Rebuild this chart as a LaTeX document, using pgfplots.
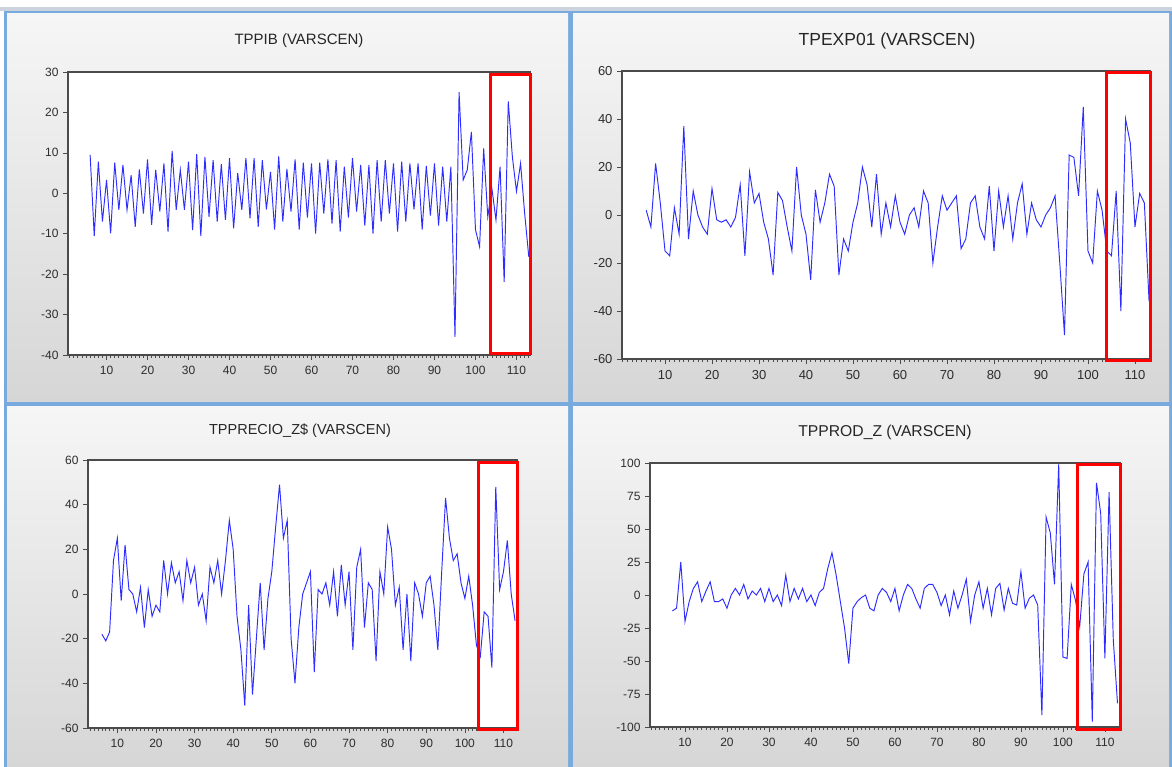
\documentclass[border=0pt]{standalone}
\usepackage{pgfplots}
\pgfplotsset{compat=1.18}
\usepackage{fontspec}
\setmainfont{Liberation Sans}
\definecolor{panelborder}{RGB}{120,170,222}
\definecolor{paneltop}{RGB}{246,246,246}
\definecolor{panelbot}{RGB}{214,214,214}
\definecolor{framegray}{RGB}{75,75,75}
\definecolor{ticktext}{RGB}{45,45,45}
\definecolor{serieblue}{RGB}{45,45,255}
\definecolor{topstrip}{RGB}{205,211,222}
\pgfplotsset{evstyle/.style={
  scale only axis,
  axis background/.style={fill=white},
  axis line style={draw=framegray, line width=1.1pt},
  tick align=outside,
  xtick pos=left, ytick pos=left,
  major tick length=5pt, minor tick length=2.8pt,
  every tick/.style={draw=framegray, line width=0.7pt},
  xtick={10,20,...,110},
  minor xtick={1,2,...,113},
  /pgf/number format/assume math mode=true,
  tick label style={text=ticktext},
  xticklabel style={yshift=-3pt},
  yticklabel style={xshift=-1pt},
},
ser/.style={serieblue, line width=0.95pt, mark=none}}
\begin{document}
\begin{tikzpicture}
\path[fill=white, use as bounding box] (0pt,0pt) rectangle (1172pt,-767pt);
\fill[topstrip] (0pt,-7pt) rectangle (1172pt,-11pt);
\fill[panelborder] (4pt,-11pt) rectangle (1172pt,-767pt);
\shade[top color=paneltop, bottom color=panelbot] (7pt,-14pt) rectangle (568pt,-401.5pt);
\shade[top color=paneltop, bottom color=panelbot] (573pt,-14pt) rectangle (1169pt,-401.5pt);
\shade[top color=paneltop, bottom color=panelbot] (7pt,-406pt) rectangle (568pt,-767pt);
\shade[top color=paneltop, bottom color=panelbot] (573pt,-406pt) rectangle (1169pt,-767pt);

\node[text=black!85, font=\fontsize{15}{15}\selectfont] at (299pt,-41pt) {TPPIB (VARSCEN)};
\node[text=black!85, font=\fontsize{17.5}{17.5}\selectfont] at (887pt,-41pt) {TPEXP01 (VARSCEN)};
\node[text=black!85, font=\fontsize{14.5}{14.5}\selectfont] at (300pt,-431pt) {TPPRECIO\_Z\$ (VARSCEN)};
\node[text=black!85, font=\fontsize{15.7}{15.7}\selectfont] at (885pt,-432pt) {TPPROD\_Z (VARSCEN)};

% Top left
\begin{axis}[evstyle, at={(68pt,-72pt)}, anchor=north west, width=462pt, height=283pt,
  xmin=0.6, xmax=113.3, ymin=-40, ymax=30, ytick={-40,-30,...,30},
  tick label style={font=\fontsize{12}{12}\selectfont}]
\addplot[ser] coordinates {(6,9.5)(7,-10.6)(8,7.8)(9,-7)(10,3.3)(11,-9.9)(12,7.6)(13,-4.1)(14,7.0)(15,-4.1)
(16,4.5)(17,-8.3)(18,5.9)(19,-5)(20,8.4)(21,-7.8)(22,5.8)(23,-4.5)(24,7.4)(25,-9.5)
(26,10.5)(27,-4.1)(28,5.8)(29,-4.1)(30,7.8)(31,-9.1)(32,9.7)(33,-10.6)(34,9.0)(35,-5.8)
(36,8.2)(37,-7)(38,7.2)(39,-6.6)(40,8.7)(41,-8.7)(42,5.0)(43,-4.1)(44,8.7)(45,-6.2)
(46,8.7)(47,-8.3)(48,8.2)(49,-4)(50,5.3)(51,-9)(52,9.1)(53,-7)(54,6.0)(55,-4.5)
(56,8.4)(57,-9)(58,7.6)(59,-6)(60,7.4)(61,-10)(62,7.6)(63,-5)(64,8.4)(65,-7.5)
(66,8.2)(67,-9.5)(68,6.6)(69,-6)(70,8.7)(71,-4.5)(72,7.0)(73,-8)(74,7.0)(75,-10)
(76,8.2)(77,-7)(78,8.2)(79,-5)(80,7.4)(81,-9.5)(82,7.8)(83,-7)(84,7.4)(85,-4)
(86,7.4)(87,-9)(88,6.8)(89,-5.5)(90,7.4)(91,-8)(92,6.6)(93,-7)(94,6.6)(95,-35.5)
(96,25)(97,3.3)(98,5.8)(99,15.2)(100,-9)(101,-13.2)(102,11.1)(103,-5.8)(104,1.2)(105,-6.6)
(106,6.6)(107,-21.9)(108,22.7)(109,9)(110,0.5)(111,7.4)(112,-5)(113,-15.7)};
\end{axis}

% Top right
\begin{axis}[evstyle, at={(622pt,-71pt)}, anchor=north west, width=528pt, height=288pt,
  xmin=0.85, xmax=113.2, ymin=-60, ymax=60, ytick={-60,-40,...,60},
  tick label style={font=\fontsize{13}{13}\selectfont}]
\addplot[ser] coordinates {(6,2)(7,-5)(8,21.5)(9,5)(10,-15)(11,-17)(12,3)(13,-8)(14,37)(15,-10)
(16,10)(17,0)(18,-5)(19,-8)(20,11)(21,-2)(22,-3)(23,-2)(24,-5)(25,-1)
(26,12.6)(27,-17)(28,18)(29,5)(30,9)(31,-3)(32,-10)(33,-25)(34,9.4)(35,6)
(36,-5)(37,-15)(38,20)(39,0)(40,-8)(41,-27)(42,10.5)(43,-3)(44,5)(45,17)
(46,12)(47,-25)(48,-10)(49,-15)(50,-3)(51,5)(52,20)(53,12.6)(54,-5)(55,17)
(56,-8)(57,5)(58,-5)(59,8)(60,-3)(61,-8)(62,0)(63,3)(64,-5)(65,10)
(66,5)(67,-20)(68,-5)(69,8)(70,2)(71,5)(72,8)(73,-14)(74,-10)(75,5)
(76,8)(77,-5)(78,-10)(79,12)(80,-15)(81,10)(82,-5)(83,8)(84,-10)(85,5)
(86,13)(87,-8)(88,5)(89,-2)(90,-5)(91,0)(92,3)(93,8)(94,-20)(95,-50)
(96,25)(97,24)(98,8)(99,45)(100,-15)(101,-20)(102,10)(103,2)(104,-15)(105,-17)
(106,10)(107,-40)(108,40)(109,30)(110,-5)(111,9)(112,5)(113,-36)};
\end{axis}

% Bottom left
\begin{axis}[evstyle, at={(88pt,-460pt)}, anchor=north west, width=429pt, height=268pt,
  xmin=2.4, xmax=113.5, ymin=-60, ymax=60, ytick={-60,-40,...,60},
  tick label style={font=\fontsize{12}{12}\selectfont}]
\addplot[ser] coordinates {(6,-18)(7,-21)(8,-17)(9,15)(10,25)(11,-3)(12,22)(13,2)(14,0)(15,-8)
(16,3)(17,-15)(18,2)(19,-10)(20,-5)(21,-8)(22,15)(23,0)(24,14)(25,5)
(26,10)(27,-3)(28,15)(29,5)(30,12)(31,-5)(32,0)(33,-12)(34,12)(35,5)
(36,15)(37,0)(38,15)(39,33)(40,20)(41,-10)(42,-25)(43,-50)(44,-5)(45,-45)
(46,-20)(47,5)(48,-25)(49,-2)(50,10)(51,30)(52,49)(53,25)(54,33)(55,-20)
(56,-40)(57,-15)(58,0)(59,5)(60,10)(61,-35)(62,2)(63,0)(64,5)(65,-5)
(66,10)(67,-10)(68,13)(69,-5)(70,10)(71,-25)(72,12)(73,20)(74,-15)(75,5)
(76,2)(77,-30)(78,10)(79,0)(80,30)(81,20)(82,-5)(83,3)(84,-25)(85,0)
(86,-30)(87,5)(88,0)(89,-10)(90,5)(91,8)(92,-5)(93,-25)(94,10)(95,43)
(96,25)(97,15)(98,18)(99,5)(100,-2)(101,8)(102,-5)(103,-23)(104,-28)(105,-8)
(106,-10)(107,-33)(108,48)(109,2)(110,10)(111,24)(112,0)(113,-12)};
\end{axis}

% Bottom right
\begin{axis}[evstyle, at={(650pt,-463pt)}, anchor=north west, width=470pt, height=264pt,
  xmin=1.67, xmax=113.6, ymin=-100, ymax=100, ytick={-100,-75,...,100},
  tick label style={font=\fontsize{12}{12}\selectfont}]
\addplot[ser] coordinates {(7,-12)(8,-10)(9,25)(10,-20)(11,-5)(12,5)(13,10)(14,-5)(15,3)
(16,10)(17,-5)(18,-5)(19,-3)(20,-10)(21,0)(22,5)(23,0)(24,8)(25,-3)
(26,3)(27,0)(28,5)(29,-5)(30,5)(31,-5)(32,0)(33,-8)(34,15)(35,-5)
(36,5)(37,-3)(38,5)(39,-5)(40,0)(41,-8)(42,2)(43,5)(44,20)(45,32)
(46,15)(47,-5)(48,-25)(49,-52)(50,-10)(51,-5)(52,-2)(53,0)(54,-10)(55,-12)
(56,0)(57,5)(58,2)(59,-5)(60,5)(61,-12)(62,0)(63,8)(64,5)(65,-3)
(66,-10)(67,5)(68,8)(69,8)(70,2)(71,-8)(72,0)(73,-15)(74,3)(75,-10)
(76,0)(77,12)(78,-20)(79,0)(80,10)(81,-10)(82,5)(83,-15)(84,5)(85,8.8)
(86,-11.4)(87,5)(88,-6.3)(89,-7.6)(90,17.7)(91,-10)(92,-2.5)(93,0)(94,-7.6)(95,-91)
(96,59)(97,47)(98,8)(99,99)(100,-47)(101,-48)(102,8)(103,-4)(104,-24)(105,16)
(106,25)(107,-96)(108,85)(109,62)(110,-48)(111,78)(112,-34)(113,-82)};
\end{axis}

% red highlight boxes
\draw[red, line width=3pt] (490pt,-75pt) rectangle (530pt,-353pt);
\draw[red, line width=3pt] (1106pt,-73pt) rectangle (1150pt,-360pt);
\draw[red, line width=3pt] (478pt,-462pt) rectangle (517pt,-729pt);
\draw[red, line width=3pt] (1077pt,-464pt) rectangle (1120pt,-729pt);
\end{tikzpicture}
\end{document}
